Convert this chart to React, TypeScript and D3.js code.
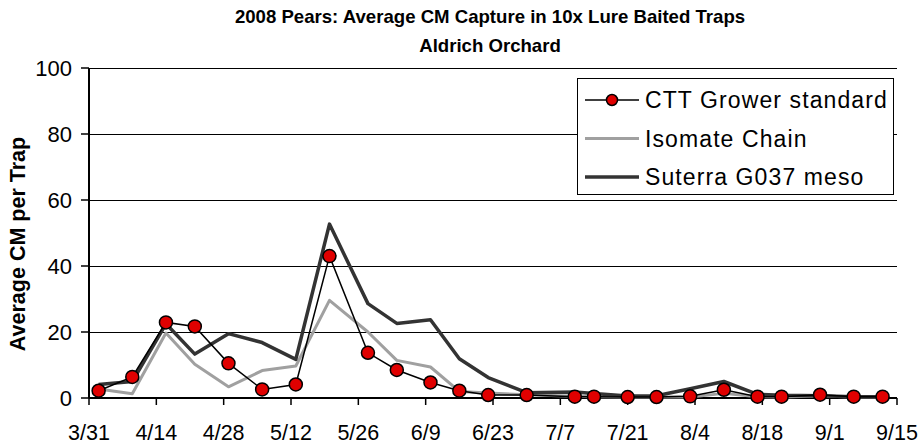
import React from 'react';
import * as d3 from 'd3';

const dates = ['4/2', '4/9', '4/16', '4/22', '4/29', '5/6', '5/13', '5/20', '5/28', '6/3', '6/10', '6/16', '6/22', '6/30', '7/10', '7/14', '7/21', '7/27', '8/3', '8/10', '8/17', '8/22', '8/30', '9/6', '9/12'];
const cttGrower = [2.2, 6.4, 22.9, 21.7, 10.5, 2.6, 4.1, 43, 13.7, 8.5, 4.7, 2.2, 0.9, 0.9, 0.4, 0.4, 0.3, 0.3, 0.5, 2.5, 0.4, 0.4, 1.0, 0.4, 0.4];
const isomate = [2.7, 1.3, 19.7, 10.2, 3.4, 8.3, 9.7, 29.6, 20, 11.4, 9.4, 2.0, 1.5, 1.0, 0.5, 0.4, 0.3, 0.3, 0.3, 1.4, 0.4, 0.3, 0.6, 0.3, 0.3];
const suterra = [4.1, 5.0, 22.5, 13.3, 19.5, 16.8, 11.7, 52.7, 28.6, 22.6, 23.7, 11.9, 6.2, 1.6, 1.8, 1.4, 0.6, 0.7, 2.8, 5.0, 1.1, 0.8, 0.7, 0.4, 0.4];
const xTickLabels = ['3/31', '4/14', '4/28', '5/12', '5/26', '6/9', '6/23', '7/7', '7/21', '8/4', '8/18', '9/1', '9/15'];
const yTicks = [0, 20, 40, 60, 80, 100];

const parse = d3.timeParse('%m/%d/%Y');
const toDate = (s: string) => parse(`${s}/2008`) as Date;

const FONT = '"Liberation Sans", Arial, sans-serif';

const App: React.FC = () => {
  const width = 920;
  const height = 447;
  const left = 89;
  const right = 897;
  const top = 68;
  const bottom = 398;

  const x = d3.scaleTime()
    .domain([toDate('3/31'), toDate('9/15')])
    .range([left, right]);
  const y = d3.scaleLinear().domain([0, 100]).range([bottom, top]);

  const line = d3.line<number>()
    .x((_, i) => x(toDate(dates[i])))
    .y((d) => y(d));

  const legendItems = [
    { name: 'CTT Grower standard', color: '#000', w: 1.5, marker: true },
    { name: 'Isomate Chain', color: '#a0a0a0', w: 3, marker: false },
    { name: 'Suterra G037 meso', color: '#333', w: 3.5, marker: false },
  ];

  return (
    <svg width={width} height={height} style={{ position: 'absolute', left: 0, top: 0, background: '#fff' }} fontFamily={FONT}>
      {/* title */}
      <text x={490} y={22.5} textAnchor="middle" fontSize={18.6} fontWeight="bold">2008 Pears: Average CM Capture in 10x Lure Baited Traps</text>
      <text x={490} y={52} textAnchor="middle" fontSize={18.6} fontWeight="bold">Aldrich Orchard</text>

      {/* gridlines */}
      {yTicks.filter((t) => t > 0).map((t) => (
        <line key={t} x1={left} x2={right} y1={y(t)} y2={y(t)} stroke="#000" strokeWidth={1} shapeRendering="crispEdges" />
      ))}

      {/* y axis */}
      <line x1={left} x2={left} y1={top} y2={bottom} stroke="#000" strokeWidth={2} />
      {yTicks.map((t) => (
        <g key={t}>
          <line x1={left - 8} x2={left} y1={y(t)} y2={y(t)} stroke="#000" strokeWidth={1.5} />
          <text x={left - 17} y={y(t)} dy="0.36em" textAnchor="end" fontSize={22}>{t}</text>
        </g>
      ))}
      <text transform="translate(25,244) rotate(-90)" textAnchor="middle" fontSize={21.5} fontWeight="bold">Average CM per Trap</text>

      {/* x axis */}
      <line x1={left} x2={right} y1={bottom} y2={bottom} stroke="#000" strokeWidth={2} />
      {xTickLabels.map((l) => (
        <g key={l}>
          <line x1={x(toDate(l))} x2={x(toDate(l))} y1={bottom} y2={bottom + 7} stroke="#000" strokeWidth={1.5} />
          <text x={x(toDate(l))} y={440} textAnchor="middle" fontSize={21.5}>{l}</text>
        </g>
      ))}

      {/* series */}
      <path d={line(isomate) || ''} fill="none" stroke="#a0a0a0" strokeWidth={3} strokeLinejoin="round" />
      <path d={line(suterra) || ''} fill="none" stroke="#333" strokeWidth={3.5} strokeLinejoin="round" />
      <path d={line(cttGrower) || ''} fill="none" stroke="#000" strokeWidth={1.5} />
      {cttGrower.map((v, i) => (
        <circle key={i} cx={x(toDate(dates[i]))} cy={y(v)} r={6.5} fill="#e00000" stroke="#000" strokeWidth={1.5} />
      ))}

      {/* legend */}
      <rect x={577.5} y={78.5} width={316} height={116} fill="#fff" stroke="#000" strokeWidth={1} />
      {legendItems.map((it, i) => {
        const ly = 100 + i * 38.5;
        return (
          <g key={it.name}>
            <line x1={585} x2={639} y1={ly} y2={ly} stroke={it.color} strokeWidth={it.w} />
            {it.marker && <circle cx={612} cy={ly} r={5.5} fill="#e00000" stroke="#000" strokeWidth={1.5} />}
            <text x={645} y={ly} dy="0.36em" fontSize={23} letterSpacing={1.1}>{it.name}</text>
          </g>
        );
      })}
    </svg>
  );
};

export default App;
